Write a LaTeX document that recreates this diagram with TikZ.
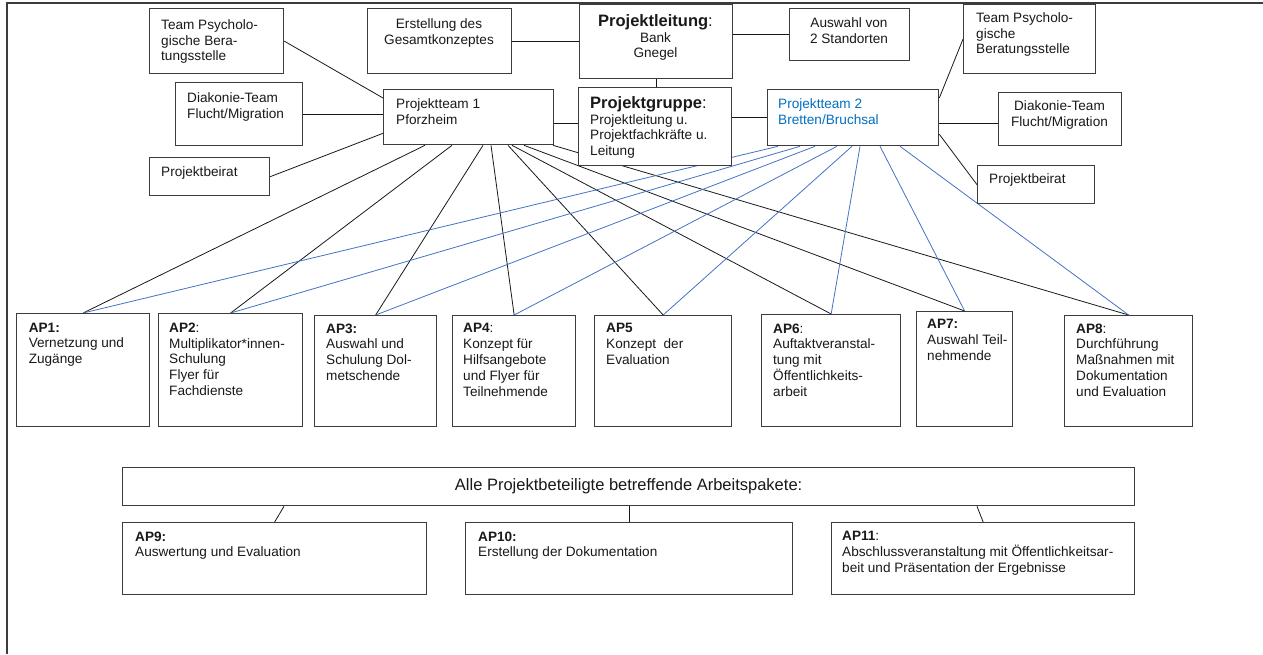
\documentclass[tikz,border=0pt]{standalone}
\usepackage{fontspec}
\setmainfont{Liberation Sans}
\usetikzlibrary{calc}
\definecolor{boxgray}{RGB}{60,60,60}
\definecolor{lineblue}{RGB}{68,114,196}
\definecolor{textblue}{RGB}{0,112,192}
\pgfdeclarelayer{bg}
\pgfsetlayers{bg,main}
\begin{document}
\begin{tikzpicture}[x=1pt,y=-1pt,
  box/.style={draw=boxgray, line width=1.3pt, fill=white, inner sep=0pt, anchor=north west},
  txt/.style={inner sep=0pt, anchor=north west, align=left, text=black!90, font=\fontsize{13.6}{15.8}\selectfont},
  ctxt/.style={txt, anchor=north, align=center},
  bigtxt/.style={inner sep=0pt, text=black!90, font=\fontsize{16.5}{19}\selectfont},
  conn/.style={draw=black!90, line width=0.8pt},
  bconn/.style={draw=lineblue, line width=0.8pt},
  frame/.style={draw=boxgray, line width=1.3pt}]
\useasboundingbox (0,0) rectangle (1263,654);
\draw[frame] (1263,3) -- (7,3) -- (7,654);

% top boxes
\node[box, minimum width=134pt, minimum height=65pt] (tpb1) at (149,8) {};
\node[box, minimum width=144pt, minimum height=65pt] (erst) at (367,8) {};
\node[box, minimum width=153pt, minimum height=74pt] (pl) at (579,4) {};
\node[box, minimum width=120pt, minimum height=52pt] (ausw) at (789,8) {};
\node[box, minimum width=132pt, minimum height=69pt] (tpb2) at (963,4) {};
\node[box, minimum width=127pt, minimum height=63pt] (dia1) at (175,82) {};
\node[box, minimum width=170pt, minimum height=55pt] (pt1) at (383,89) {};
\node[box, minimum width=153pt, minimum height=78pt] (pg) at (578,87) {};
\node[box, minimum width=171pt, minimum height=56pt] (pt2) at (767,89) {};
\node[box, minimum width=123pt, minimum height=53pt] (dia2) at (998,92) {};
\node[box, minimum width=120pt, minimum height=38pt] (pb1) at (149,157) {};
\node[box, minimum width=117pt, minimum height=38pt] (pb2) at (977,165) {};

% AP boxes
\node[box, minimum width=133pt, minimum height=113pt] (ap1) at (16,313) {};
\node[box, minimum width=144pt, minimum height=113pt] (ap2) at (158,313) {};
\node[box, minimum width=122pt, minimum height=111pt] (ap3) at (314,315) {};
\node[box, minimum width=123pt, minimum height=111pt] (ap4) at (452,315) {};
\node[box, minimum width=137pt, minimum height=111pt] (ap5) at (594,315) {};
\node[box, minimum width=139pt, minimum height=112pt] (ap6) at (761,314) {};
\node[box, minimum width=96pt, minimum height=115pt] (ap7) at (916,311) {};
\node[box, minimum width=128pt, minimum height=111pt] (ap8) at (1064,315) {};

% bottom boxes
\node[box, minimum width=1012pt, minimum height=38pt] (alle) at (122,467) {};
\node[box, minimum width=304pt, minimum height=72pt] (ap9) at (122,522) {};
\node[box, minimum width=327pt, minimum height=72pt] (ap10) at (465,522) {};
\node[box, minimum width=303pt, minimum height=72pt] (ap11) at (831,522) {};

% texts
\node[txt] (tpb1t) at (161,19.3) {Team Psycholo-\\gische Bera-\\tungsstelle};
\node[ctxt] (erstt) at (439,18.3) {Erstellung des\\Gesamtkonzeptes};
\node[ctxt] (plt) at (655.5,14.2) {{\fontsize{16.5}{15.8}\selectfont\textbf{Projektleitung}:}\\Bank\\Gnegel};
\node[ctxt] (auswt) at (849,17.3) {Auswahl von\\2 Standorten};
\node[txt] (tpb2t) at (976,12.3) {Team Psycholo-\\gische\\Beratungsstelle};
\node[txt] (dia1t) at (187,92.3) {Diakonie-Team\\Flucht/Migration};
\node[txt] (pt1t) at (396,98.3) {Projektteam 1\\Pforzheim};
\node[txt] (pgt) at (590,96.2) {{\fontsize{16.5}{15.8}\selectfont\textbf{Projektgruppe}:}\\Projektleitung u.\\Projektfachkräfte u.\\Leitung};
\node[txt, text=textblue] (pt2t) at (778,98.3) {Projektteam 2\\Bretten/Bruchsal};
\node[ctxt] (dia2t) at (1059.5,100.3) {Diakonie-Team\\Flucht/Migration};
\node[txt] (pb1t) at (161,166.3) {Projektbeirat};
\node[txt] (pb2t) at (989,173.3) {Projektbeirat};

\node[txt] (ap1t) at (28.6,322.5) {\textbf{AP1:}\\Vernetzung und\\Zugänge};
\node[txt] (ap2t) at (169,322.5) {\textbf{AP2}:\\Multiplikator*innen-\\Schulung\\Flyer für\\Fachdienste};
\node[txt] (ap3t) at (326,323.3) {\textbf{AP3:}\\Auswahl und\\Schulung Dol-\\metschende};
\node[txt] (ap4t) at (463,323.3) {\textbf{AP4}:\\Konzept für\\Hilfsangebote\\und Flyer für\\Teilnehmende};
\node[txt] (ap5t) at (606,323.3) {\textbf{AP5}\\Konzept\ \ der\\Evaluation};
\node[txt] (ap6t) at (773,323.3) {\textbf{AP6}:\\Auftaktveranstal-\\tung mit\\Öffentlichkeits-\\arbeit};
\node[txt] (ap7t) at (927,319.3) {\textbf{AP7:}\\Auswahl Teil-\\nehmende};
\node[txt] (ap8t) at (1076,323.3) {\textbf{AP8}:\\Durchführung\\Maßnahmen mit\\Dokumentation\\und Evaluation};

\node[bigtxt] (allet) at (alle.center) {Alle Projektbeteiligte betreffende Arbeitspakete:};
\node[txt] (ap9t) at (135,531.3) {\textbf{AP9:}\\Auswertung und Evaluation};
\node[txt] (ap10t) at (478,531.3) {\textbf{AP10:}\\Erstellung der Dokumentation};
\node[txt] (ap11t) at (842,531.3) {\textbf{AP11}:\\Abschlussveranstaltung mit Öffentlichkeitsar-\\beit und Präsentation der Ergebnisse};

\begin{pgfonlayer}{bg}
% top structure
\draw[conn] (tpb1.east) -- ($(pt1.north west)+(0,9)$);
\draw[conn] (dia1.east) -- (dia1.east -| pt1.west);
\draw[conn] (pb1.east) -- ($(pt1.south west)+(0,-12)$);
\draw[conn] (erst.east) -- (erst.east -| pl.west);
\draw[conn] (ausw.west -| pl.east) -- (ausw.west);
\draw[conn] (pl.south) -- (pl.south |- pg.north);
\coordinate (c1) at ($(pt1.east)+(0,6.5)$);
\draw[conn] (c1) -- (c1 -| pg.west);
\draw[conn] (pt2.west -| pg.east) -- (pt2.west);
\draw[conn] ($(pt2.north east)+(0,9)$) -- (tpb2.west);
\coordinate (c2) at ($(pt2.east)+(0,6)$);
\draw[conn] (c2) -- (c2 -| dia2.west);
\draw[conn] ($(pt2.south east)+(0,-12)$) -- (pb2.west);
% fan from Projektteam 1
\foreach \a/\d in {ap1/42, ap2/69, ap3/100, ap4/108, ap5/125, ap6/129, ap7/141, ap8/170}
  \draw[conn] ($(pt1.south west)+(\d,0)$) -- (\a.north);
% fan from Projektteam 2
\foreach \a/\d in {ap1/11, ap2/33, ap3/48, ap4/70, ap5/85, ap6/93, ap7/113, ap8/133}
  \draw[bconn] ($(pt2.south west)+(\d,0)$) -- (\a.north);
% bottom
\draw[conn] ($(alle.south west)+(162,0)$) -- (ap9.north);
\draw[conn] (ap10.north |- alle.south) -- (ap10.north);
\draw[conn] ($(alle.south west)+(855,0)$) -- (ap11.north);
\end{pgfonlayer}
\end{tikzpicture}
\end{document}
